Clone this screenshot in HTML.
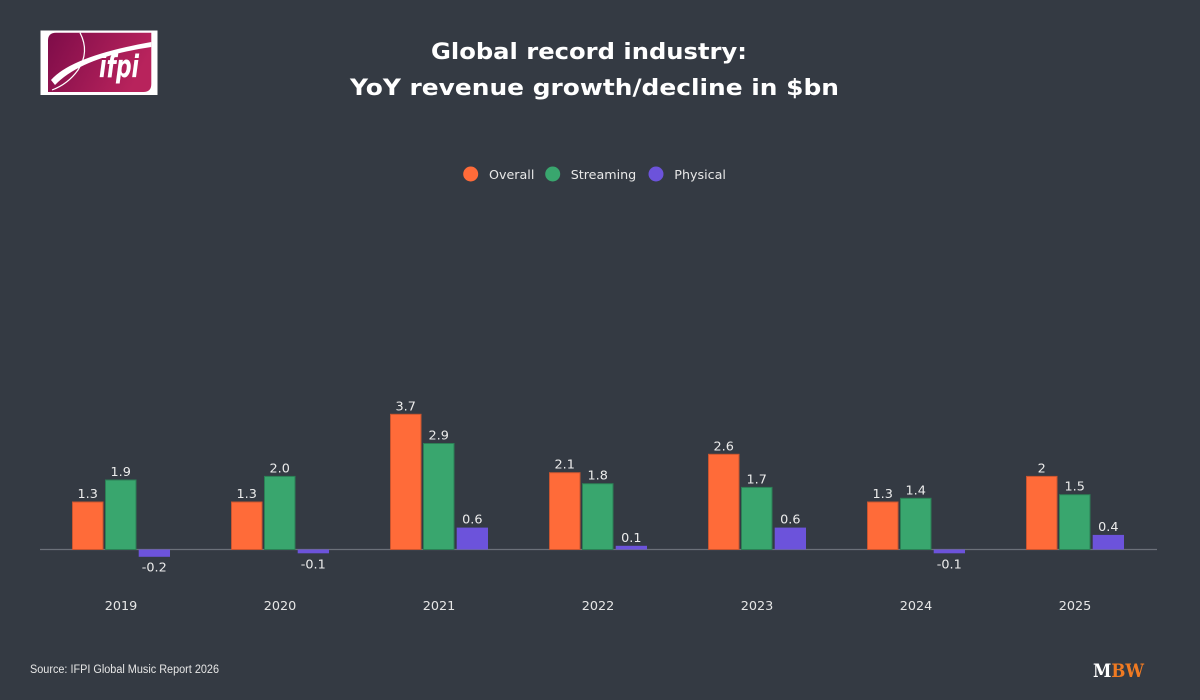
<!DOCTYPE html>
<html><head><meta charset="utf-8"><style>
html,body{margin:0;padding:0;background:#343a43;}
svg{display:block;}
</style></head><body>
<svg width="1200" height="700" viewBox="0 0 1200 700" xmlns="http://www.w3.org/2000/svg">
<defs>
<linearGradient id="lg" x1="0" y1="0" x2="1" y2="0.3">
<stop offset="0" stop-color="#7e0c49"/><stop offset="1" stop-color="#b8235c"/>
</linearGradient>
</defs>
<rect width="1200" height="700" fill="#343a43"/>
<!-- logo -->
<rect x="40.5" y="30.5" width="117" height="64.5" fill="#ffffff"/>
<path d="M56,32.7 H151.3 V84 Q151.3,92 143.3,92 H48 V40.7 Q48,32.7 56,32.7 Z" fill="url(#lg)"/>
<path d="M51,80 Q72,56 151.3,42 L151.3,47 Q82,57 55,85 Z" fill="#ffffff"/>
<path d="M80,32.7 Q90,52 78,70 Q68,84 52,90" fill="none" stroke="#ffffff" stroke-width="1.2"/>
<text x="99" y="77" font-family="DejaVu Sans, sans-serif" font-weight="bold" font-style="italic" font-size="31" fill="#ffffff" textLength="40" lengthAdjust="spacingAndGlyphs">ifpi</text>
<!-- title -->
<text x="589" y="59" text-anchor="middle" font-family="DejaVu Sans, sans-serif" font-weight="bold" font-size="22.5" fill="#ffffff" textLength="316" lengthAdjust="spacingAndGlyphs">Global record industry:</text>
<text x="594.5" y="95" text-anchor="middle" font-family="DejaVu Sans, sans-serif" font-weight="bold" font-size="22.5" fill="#ffffff" textLength="489" lengthAdjust="spacingAndGlyphs">YoY revenue growth/decline in $bn</text>
<!-- legend -->
<g font-family="DejaVu Sans, sans-serif" font-size="12.7" fill="#e8e8e8">
<circle cx="470.7" cy="174" r="7.5" fill="#ff6b39"/>
<text x="489" y="179">Overall</text>
<circle cx="552.7" cy="174" r="7.5" fill="#39a66e"/>
<text x="570.7" y="179">Streaming</text>
<circle cx="656" cy="174" r="7.5" fill="#6c53db"/>
<text x="674.3" y="179">Physical</text>
</g>
<!-- zero line -->
<line x1="40" y1="549.5" x2="1157" y2="549.5" stroke="#6b7079" stroke-width="1.2"/>
<!-- bars -->
<g stroke-width="1">
<rect x="72.5" y="502" width="30.5" height="47.5" fill="#ff6b39" stroke="#c95530"/>
<rect x="105.5" y="480" width="30.5" height="69.5" fill="#39a66e" stroke="#2c7f55"/>
<rect x="138.7" y="549.5" width="31.3" height="7.3" fill="#6c53db"/>
<rect x="231.5" y="502" width="30.5" height="47.5" fill="#ff6b39" stroke="#c95530"/>
<rect x="264.5" y="476.4" width="30.5" height="73.1" fill="#39a66e" stroke="#2c7f55"/>
<rect x="297.7" y="549.5" width="31.3" height="3.8" fill="#6c53db"/>
<rect x="390.5" y="414.3" width="30.5" height="135.2" fill="#ff6b39" stroke="#c95530"/>
<rect x="423.5" y="443.5" width="30.5" height="106" fill="#39a66e" stroke="#2c7f55"/>
<rect x="456.7" y="527.6" width="31.3" height="21.9" fill="#6c53db"/>
<rect x="549.5" y="472.7" width="30.5" height="76.8" fill="#ff6b39" stroke="#c95530"/>
<rect x="582.5" y="483.7" width="30.5" height="65.8" fill="#39a66e" stroke="#2c7f55"/>
<rect x="615.7" y="545.8" width="31.3" height="3.7" fill="#6c53db"/>
<rect x="708.5" y="454.3" width="30.5" height="95.2" fill="#ff6b39" stroke="#c95530"/>
<rect x="741.5" y="487.4" width="30.5" height="62.1" fill="#39a66e" stroke="#2c7f55"/>
<rect x="774.7" y="527.6" width="31.3" height="21.9" fill="#6c53db"/>
<rect x="867.5" y="502" width="30.5" height="47.5" fill="#ff6b39" stroke="#c95530"/>
<rect x="900.5" y="498.3" width="30.5" height="51.2" fill="#39a66e" stroke="#2c7f55"/>
<rect x="933.7" y="549.5" width="31.3" height="3.8" fill="#6c53db"/>
<rect x="1026.5" y="476.4" width="30.5" height="73.1" fill="#ff6b39" stroke="#c95530"/>
<rect x="1059.5" y="494.7" width="30.5" height="54.8" fill="#39a66e" stroke="#2c7f55"/>
<rect x="1092.7" y="534.9" width="31.3" height="14.6" fill="#6c53db"/>
</g>
<!-- value labels -->
<g font-family="DejaVu Sans, sans-serif" font-size="12.8" fill="#ececec" text-anchor="middle">
<text x="87.7" y="498">1.3</text><text x="120.7" y="476">1.9</text><text x="154.3" y="571.7">-0.2</text>
<text x="246.7" y="498">1.3</text><text x="279.7" y="472.4">2.0</text><text x="313.3" y="568.3">-0.1</text>
<text x="405.7" y="410.3">3.7</text><text x="438.7" y="439.5">2.9</text><text x="472.3" y="523.6">0.6</text>
<text x="564.7" y="468.7">2.1</text><text x="597.7" y="479.7">1.8</text><text x="631.3" y="541.8">0.1</text>
<text x="723.7" y="450.3">2.6</text><text x="756.7" y="483.4">1.7</text><text x="790.3" y="523.6">0.6</text>
<text x="882.7" y="498">1.3</text><text x="915.7" y="494.3">1.4</text><text x="949.3" y="568.3">-0.1</text>
<text x="1041.7" y="472.4">2</text><text x="1074.7" y="490.7">1.5</text><text x="1108.3" y="530.9">0.4</text>
</g>
<!-- x axis labels -->
<g font-family="DejaVu Sans, sans-serif" font-size="12.8" fill="#e6e6e6" text-anchor="middle">
<text x="121" y="610">2019</text>
<text x="280" y="610">2020</text>
<text x="439" y="610">2021</text>
<text x="598" y="610">2022</text>
<text x="757" y="610">2023</text>
<text x="916" y="610">2024</text>
<text x="1075" y="610">2025</text>
</g>
<!-- source -->
<text x="30" y="673" font-family="Liberation Sans, sans-serif" font-size="11.5" fill="#e6e6e6" textLength="189" lengthAdjust="spacingAndGlyphs">Source: IFPI Global Music Report 2026</text>
<!-- MBW -->
<text x="1093" y="677" font-family="DejaVu Serif, serif" font-weight="bold" font-size="19" textLength="51" lengthAdjust="spacingAndGlyphs"><tspan fill="#ffffff">M</tspan><tspan fill="#f07a22">BW</tspan></text>
</svg>
</body></html>
